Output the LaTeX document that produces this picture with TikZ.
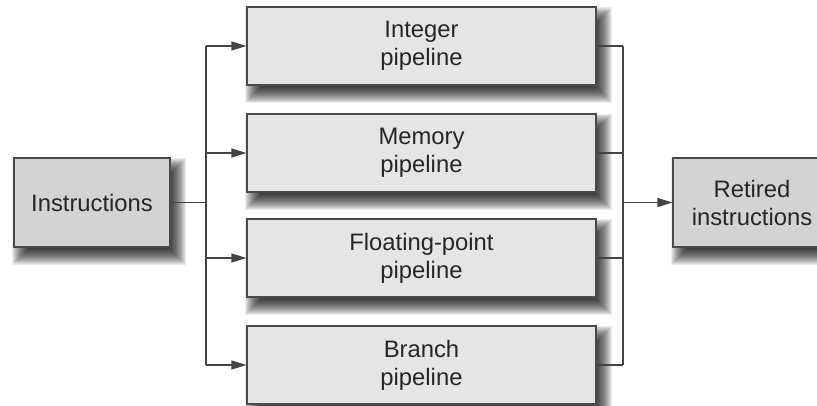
\documentclass[tikz,border=0pt]{standalone}
\usepackage{fontspec}
\setmainfont{Liberation Sans}
\usetikzlibrary{arrows.meta,calc}
\pgfdeclarelayer{background}
\pgfdeclarelayer{paper}
\pgfsetlayers{paper,background,main}
\definecolor{boxline}{HTML}{4A4A4A}
\definecolor{pipefill}{HTML}{E5E5E7}
\definecolor{endfill}{HTML}{D3D3D3}
\definecolor{txt}{HTML}{262626}
\definecolor{wire}{HTML}{444444}
\newcommand{\boxshadow}[1]{%
  \begin{pgfonlayer}{background}
  \foreach \d in {-8,-7,...,8} {
    \fill[black,opacity=0.075] ($(#1.south west)+(7+\d,-9+\d)$) rectangle ($(#1.north east)+(7-\d,-9-\d)$);
  }
  \end{pgfonlayer}}
\begin{document}
\begin{tikzpicture}[x=1pt,y=1pt,
  font=\fontsize{23.8}{28}\selectfont,
  basebox/.style={draw=boxline,line width=1.2pt,text=txt,align=center,inner sep=0pt,anchor=center},
  pipebox/.style={basebox,fill=pipefill,minimum width=349pt,minimum height=78pt},
  endbox/.style={basebox,fill=endfill,minimum height=89pt},
  conn/.style={draw=wire,line width=1.2pt},
  arr/.style={conn,-{Triangle[length=15pt,width=9pt]}}]
\clip (0,0) rectangle (817,406);
\begin{pgfonlayer}{paper}
\fill[white] (0,0) rectangle (817,406);
\end{pgfonlayer}
\node[endbox,minimum width=156pt] (ins) at (92,203.5) {Instructions};
\node[pipebox] (p1) at (421.5,360) {Integer\\pipeline};
\node[pipebox] (p2) at (421.5,253) {Memory\\pipeline};
\node[pipebox] (p3) at (421.5,148) {Floating-point\\pipeline};
\node[pipebox] (p4) at (421.5,41) {Branch\\pipeline};
\node[endbox,minimum width=158pt] (ret) at (752,203.5) {Retired\\instructions};
\boxshadow{ins}
\boxshadow{p1}
\boxshadow{p2}
\boxshadow{p3}
\boxshadow{p4}
\boxshadow{ret}
\coordinate (busL) at (206,203.5);
\coordinate (busR) at (623,203.5);
\draw[conn] (ins.east) -- (busL);
\draw[conn] (busL |- p1.west) -- (busL |- p4.west);
\foreach \p in {p1,p2,p3,p4} {
  \draw[arr] (busL |- \p.west) -- (\p.west);
  \draw[conn] (\p.east) -- (busR |- \p.east);
}
\draw[conn] (busR |- p1.east) -- (busR |- p4.east);
\draw[arr] (busR) -- (ret.west);
\end{tikzpicture}
\end{document}
